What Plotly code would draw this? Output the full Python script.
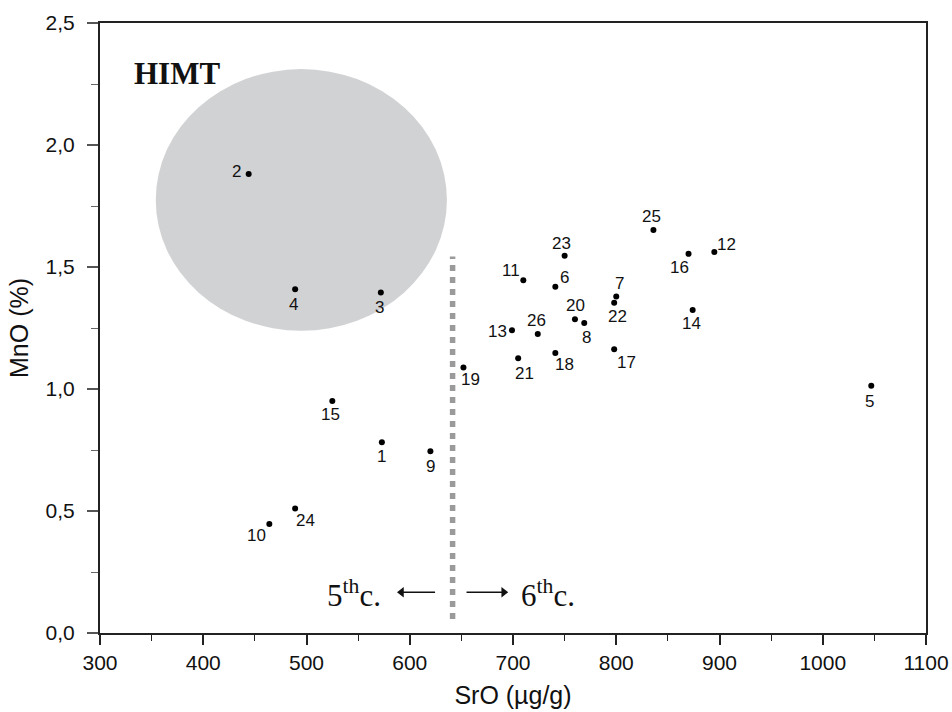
import plotly.graph_objects as go

# ---- data ----
sample_ids = [str(i) for i in range(1, 27)]
sro = [573, 444, 572, 489, 1047, 741, 800, 769, 620, 464, 710, 895, 699,
       874, 525, 870, 798, 741, 652, 760, 705, 798, 750, 489, 836, 724]
mno = [0.782, 1.881, 1.395, 1.409, 1.013, 1.419, 1.379, 1.271, 0.745, 0.447,
       1.446, 1.561, 1.241, 1.324, 0.951, 1.554, 1.163, 1.148, 1.088, 1.286,
       1.126, 1.353, 1.546, 0.510, 1.652, 1.225]
x_ticks = [300, 400, 500, 600, 700, 800, 900, 1000, 1100]
y_ticks = [0.0, 0.5, 1.0, 1.5, 2.0, 2.5]

# HIMT field (ellipse bounds) and century divider
himt_x = [354, 636]
himt_y = [1.239, 2.311]
divider_x = 641.5
divider_y = [0.057, 1.543]

# century arrows (start, tip) at MnO level
arrow_y = 0.167
arrow_left = [624.5, 592]
arrow_right = [655, 691]

# label offsets (pixels, dx right, dy down)
label_offsets = [(0, 14), (-12, -3), (-1, 15), (-2, 15), (-2, 16), (9, -9),
                 (3, -13), (2, 15), (0, 15), (-13, 12), (-12, -10), (12, -8),
                 (-14, 1), (-1, 14), (-2, 14), (-9, 14), (12, 13), (9, 12),
                 (7, 12), (1, -14), (6, 15), (3, 14), (-3, -12), (10, 12),
                 (-2, -13), (-1, -14)]

fig = go.Figure()

fig.add_shape(type="circle", xref="x", yref="y",
              x0=himt_x[0], x1=himt_x[1], y0=himt_y[0], y1=himt_y[1],
              fillcolor="#d1d2d4", line=dict(width=0), layer="below")

fig.add_trace(go.Scatter(x=[divider_x, divider_x], y=divider_y, mode="lines",
                         line=dict(color="#9a9a9a", width=5.5, dash="6px,6px"),
                         hoverinfo="skip", showlegend=False))

# arrows
for xs, sym in ((arrow_left, "triangle-left"), (arrow_right, "triangle-right")):
    fig.add_trace(go.Scatter(x=xs, y=[arrow_y, arrow_y], mode="lines",
                             line=dict(color="#111", width=1.5),
                             hoverinfo="skip", showlegend=False))
    fig.add_trace(go.Scatter(x=[xs[1]], y=[arrow_y], mode="markers",
                             marker=dict(symbol=sym, size=9, color="#111"),
                             hoverinfo="skip", showlegend=False))

fig.add_trace(go.Scatter(x=sro, y=mno, mode="markers",
                         marker=dict(color="black", size=6),
                         showlegend=False))

annotations = []
for sid, xv, yv, (dx, dy) in zip(sample_ids, sro, mno, label_offsets):
    annotations.append(dict(x=xv, y=yv, text=sid, showarrow=False,
                            xshift=dx, yshift=-dy,
                            font=dict(family="Liberation Sans, Arial", size=17, color="#111")))

annotations.append(dict(x=375, y=2.292, text="<b>HIMT</b>", showarrow=False,
                        font=dict(family="Liberation Serif, Times New Roman", size=31, color="#111")))
annotations.append(dict(x=546, y=0.162, text="5<sup>th</sup>c.", showarrow=False,
                        font=dict(family="Liberation Serif, Times New Roman", size=31, color="#111")))
annotations.append(dict(x=734, y=0.162, text="6<sup>th</sup>c.", showarrow=False,
                        font=dict(family="Liberation Serif, Times New Roman", size=31, color="#111")))

fig.update_layout(
    width=952, height=712,
    margin=dict(l=100, r=26, t=23, b=79, autoexpand=False),
    plot_bgcolor="white", paper_bgcolor="white",
    separators=", ",
    annotations=annotations,
    font=dict(family="Liberation Sans, Arial", color="#111"),
)

fig.update_xaxes(range=[300, 1100], tickvals=x_ticks, tickformat="d",
                 ticks="outside", ticklen=10, tickwidth=1.5, tickcolor="#222",
                 minor=dict(dtick=50, ticks="outside", ticklen=6, tickcolor="#222", tickwidth=1.2),
                 showline=True, linewidth=2, linecolor="#222", mirror=True,
                 showgrid=False, zeroline=False, automargin=False,
                 tickfont=dict(size=21),
                 title=dict(text="SrO (µg/g)", font=dict(size=25), standoff=13))
fig.update_yaxes(range=[0, 2.5], tickvals=y_ticks, tickformat=".1f",
                 ticks="outside", ticklen=11, tickwidth=1.5, tickcolor="#555",
                 minor=dict(dtick=0.25, ticks="outside", ticklen=7, tickcolor="#666", tickwidth=1.2),
                 showline=True, linewidth=2, linecolor="#222", mirror=True,
                 showgrid=False, zeroline=False, automargin=False,
                 ticklabelstandoff=8,
                 tickfont=dict(size=21),
                 title=dict(text="MnO (%)", font=dict(size=25), standoff=10))

fig.write_html("out.html", config={"displayModeBar": False},
               post_script="document.body.style.margin='0';")
